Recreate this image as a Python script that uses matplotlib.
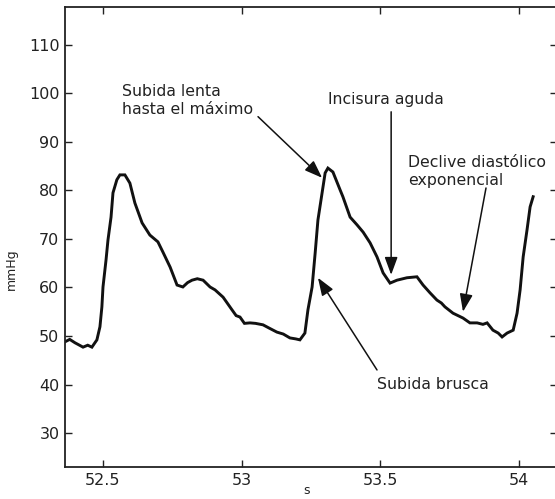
import matplotlib
matplotlib.use("Agg")
import matplotlib.pyplot as plt

# Traced pressure waveform (time in s, pressure in mmHg)
t = [52.363, 52.380, 52.399, 52.412, 52.428, 52.445, 52.460, 52.478, 52.489, 52.496,
     52.500, 52.511, 52.518, 52.529, 52.536, 52.550, 52.561, 52.579, 52.597, 52.615,
     52.641, 52.669, 52.698, 52.716, 52.742, 52.767, 52.788, 52.805, 52.821, 52.840,
     52.861, 52.886, 52.904, 52.933, 52.965, 52.980, 52.994, 53.010, 53.030, 53.050,
     53.077, 53.100, 53.127, 53.150, 53.174, 53.195, 53.210, 53.228, 53.239, 53.254,
     53.265, 53.275, 53.290, 53.301, 53.311, 53.329, 53.355, 53.365, 53.391, 53.416,
     53.438, 53.463, 53.488, 53.510, 53.535, 53.560, 53.596, 53.632, 53.654, 53.679,
     53.704, 53.720, 53.733, 53.762, 53.798, 53.823, 53.849, 53.870, 53.885, 53.906,
     53.925, 53.939, 53.957, 53.979, 53.993, 54.004, 54.015, 54.029, 54.040, 54.051]
p = [48.8, 49.3, 48.6, 48.2, 47.7, 48.1, 47.7, 49.2, 51.9, 56.0,
     60.1, 65.7, 69.8, 74.5, 79.5, 82.2, 83.2, 83.2, 81.5, 77.4,
     73.3, 70.8, 69.4, 67.3, 64.2, 60.5, 60.1, 61.0, 61.5, 61.8,
     61.5, 60.1, 59.5, 58.0, 55.4, 54.2, 53.9, 52.6, 52.7, 52.6,
     52.3, 51.6, 50.8, 50.4, 49.6, 49.4, 49.2, 50.6, 55.4, 60.1,
     67.1, 73.9, 79.5, 83.6, 84.6, 83.8, 80.1, 78.7, 74.5, 72.9,
     71.4, 69.2, 66.3, 63.0, 60.9, 61.5, 62.0, 62.2, 60.5, 58.9,
     57.4, 56.8, 56.0, 54.7, 53.7, 52.7, 52.7, 52.4, 52.7, 51.2,
     50.6, 49.8, 50.6, 51.2, 54.7, 59.5, 66.3, 71.9, 76.6, 78.7]

yticks = [30, 40, 50, 60, 70, 80, 90, 100, 110]
xticks = [52.5, 53, 53.5, 54]
xticklabels = ["52.5", "53", "53.5", "54"]

# annotations: label, text anchor (x, y), arrow tail, arrow tip
notes = [
    ("Subida lenta\nhasta el máximo", (52.569, 98.6), (53.059, 95.2), (53.290, 82.6)),
    ("Incisura aguda", (53.311, 98.7), (53.539, 96.2), (53.539, 62.6)),
    ("Declive diastólico\nexponencial", (53.600, 84.0), (53.881, 80.5), (53.798, 55.0)),
    ("Subida brusca", (53.488, 39.9), (53.488, 43.0), (53.275, 62.0)),
]

fig = plt.figure(figsize=(5.55, 4.99), dpi=100)
ax = fig.add_axes([65 / 555, (499 - 467) / 499, (557 - 65) / 555, (467 - 7) / 499])

ax.plot(t, p, color="#111111", lw=2.1, solid_joinstyle="miter")

ax.set_xlim(52.363, 54.137)
ax.set_ylim(23.0, 117.8)
ax.set_xticks(xticks)
ax.set_xticklabels(xticklabels)
ax.set_yticks(yticks)
ax.tick_params(direction="in", length=5, width=1.0, top=True, right=True,
               labelsize=11.5, colors="#222222", pad=4)
for s in ax.spines.values():
    s.set_linewidth(1.3)
    s.set_color("#222222")

ax.set_ylabel("mmHg", fontsize=9, color="#222222")
ax.yaxis.set_label_coords(-0.095, 0.43)
ax.set_xlabel("s", fontsize=9, color="#222222")
ax.xaxis.set_label_coords(0.49, -0.038)

for label, (tx, ty), tail, tip in notes:
    ax.text(tx, ty, label, fontsize=11.3, color="#222222", ha="left", va="center",
            linespacing=1.25)
    ax.annotate("", xy=tip, xytext=tail,
                arrowprops=dict(arrowstyle="-|>,head_length=0.9,head_width=0.33",
                                color="#111111", lw=1.1, shrinkA=0, shrinkB=0,
                                mutation_scale=12))

fig.savefig("out.png", dpi=100)
